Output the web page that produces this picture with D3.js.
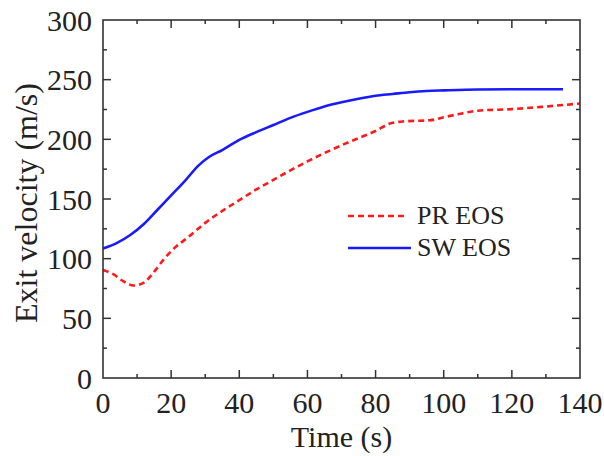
<!DOCTYPE html>
<html><head><meta charset="utf-8">
<script src="https://cdn.jsdelivr.net/npm/d3@7"></script>
<style>html,body{margin:0;padding:0;background:#fff;}svg{display:block;}</style>
</head><body>
<svg id="chart" width="604" height="456"></svg>
<script>
const xTicks = [0, 20, 40, 60, 80, 100, 120, 140];
const yTicks = [0, 50, 100, 150, 200, 250, 300];
const swTime = [0, 4, 8, 12, 16, 20, 24, 28, 31, 35, 40, 45, 50, 55, 60, 65, 70, 75, 80, 85, 90, 95, 100, 110, 120, 135];
const swVel  = [108.5, 113, 119.8, 129, 141, 153, 165, 178, 185, 191, 199.5, 206, 212, 218, 223, 227.5, 231, 234, 236.5, 238, 239.5, 240.5, 241, 241.8, 242, 242];
const prTime = [0, 3, 6, 9, 12, 15, 18, 21, 25, 30, 35, 40, 45, 50, 55, 60, 65, 70, 75, 80, 84, 88, 96, 100, 105, 110, 120, 130, 140];
const prVel  = [90.5, 87, 81, 77.5, 80, 89, 100, 109, 118, 130, 140, 149, 158, 166, 174, 181.5, 188.5, 195, 201, 207, 213, 215, 216, 218.5, 221.5, 224, 225.3, 227.5, 230];
const seriesNames = ["PR EOS", "SW EOS"];

const svg = d3.select("#chart");
const L = 103, R = 580, T = 20, B = 378;
const x = d3.scaleLinear().domain([0, 140]).range([L, R]);
const y = d3.scaleLinear().domain([0, 300]).range([B, T]);
const font = "'Liberation Serif','Times New Roman',serif";
const axisColor = "#333";

// minor ticks
const xMinor = d3.range(10, 140, 20);
const yMinor = d3.range(25, 300, 50);
const g = svg.append("g").attr("stroke", axisColor).attr("stroke-width", 1.5);
xTicks.slice(1, -1).forEach(v => {
  g.append("line").attr("x1", x(v)).attr("x2", x(v)).attr("y1", B).attr("y2", B - 8);
  g.append("line").attr("x1", x(v)).attr("x2", x(v)).attr("y1", T).attr("y2", T + 8);
});
xMinor.forEach(v => {
  g.append("line").attr("x1", x(v)).attr("x2", x(v)).attr("y1", B).attr("y2", B - 4);
  g.append("line").attr("x1", x(v)).attr("x2", x(v)).attr("y1", T).attr("y2", T + 4);
});
yTicks.slice(1, -1).forEach(v => {
  g.append("line").attr("x1", L).attr("x2", L + 8).attr("y1", y(v)).attr("y2", y(v));
  g.append("line").attr("x1", R).attr("x2", R - 8).attr("y1", y(v)).attr("y2", y(v));
});
yMinor.forEach(v => {
  g.append("line").attr("x1", L).attr("x2", L + 4).attr("y1", y(v)).attr("y2", y(v));
  g.append("line").attr("x1", R).attr("x2", R - 4).attr("y1", y(v)).attr("y2", y(v));
});

// lines
const line = d3.line().x(d => x(d[0])).y(d => y(d[1])).curve(d3.curveMonotoneX);
const prData = prTime.map((t, i) => [t, prVel[i]]);
const swData = swTime.map((t, i) => [t, swVel[i]]);
svg.append("path").datum(prData).attr("d", line).attr("fill", "none")
  .attr("stroke", "#ff1a1a").attr("stroke-width", 2.6).attr("stroke-dasharray", "6,4");
svg.append("path").datum(swData).attr("d", line).attr("fill", "none")
  .attr("stroke", "#1a1aff").attr("stroke-width", 2.6);

// frame
svg.append("rect").attr("x", L).attr("y", T).attr("width", R - L).attr("height", B - T)
  .attr("fill", "none").attr("stroke", axisColor).attr("stroke-width", 1.6);

// tick labels
svg.append("g").selectAll("text").data(xTicks).join("text")
  .attr("x", d => x(d)).attr("y", 413).attr("text-anchor", "middle")
  .attr("font-family", font).attr("font-size", 30).attr("fill", "#222").text(d => d);
svg.append("g").selectAll("text").data(yTicks).join("text")
  .attr("x", 92).attr("y", d => y(d)).attr("dy", "0.35em").attr("text-anchor", "end")
  .attr("font-family", font).attr("font-size", 30).attr("fill", "#222").text(d => d);

// axis titles
svg.append("text").attr("x", (L + R) / 2).attr("y", 447).attr("text-anchor", "middle")
  .attr("font-family", font).attr("font-size", 30).attr("fill", "#222").text("Time (s)");
svg.append("text").attr("transform", `translate(37,${(T + B) / 2 + 4}) rotate(-90)`)
  .attr("text-anchor", "middle").attr("font-family", font).attr("font-size", 32)
  .attr("fill", "#222").text("Exit velocity (m/s)");

// legend
const leg = svg.append("g");
const legY = [216, 248];
leg.append("line").attr("x1", 348).attr("x2", 408).attr("y1", legY[0]).attr("y2", legY[0])
  .attr("stroke", "#ff1a1a").attr("stroke-width", 2.6).attr("stroke-dasharray", "6,4");
leg.append("line").attr("x1", 348).attr("x2", 411).attr("y1", legY[1]).attr("y2", legY[1])
  .attr("stroke", "#1a1aff").attr("stroke-width", 2.6);
leg.selectAll("text").data(seriesNames).join("text")
  .attr("x", 417).attr("y", (d, i) => legY[i] + 8).attr("font-family", font)
  .attr("font-size", 26).attr("fill", "#222").text(d => d);
</script>
</body></html>
